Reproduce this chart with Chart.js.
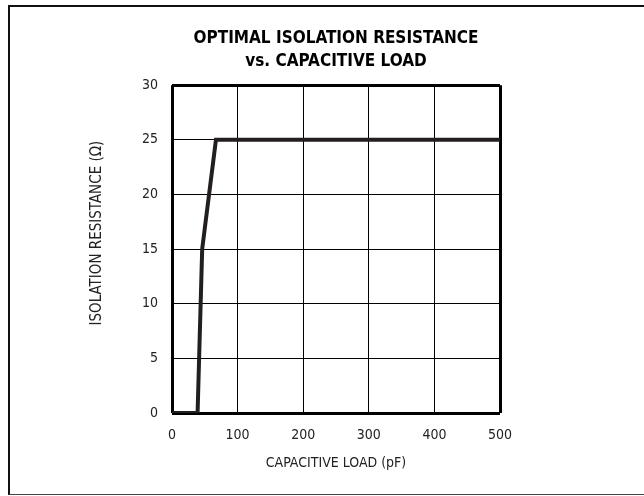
<!DOCTYPE html>
<html>
<head>
<meta charset="utf-8">
<script src="https://cdn.jsdelivr.net/npm/chart.js@4/dist/chart.umd.min.js"></script>
<style>
  html, body { margin: 0; padding: 0; background: #fff; }
  #wrap { position: relative; width: 644px; height: 496px; overflow: hidden; }
  #frame {
    position: absolute; left: 8px; top: 5px; width: 660px; height: 487px;
    border-left: 2px solid #111; border-top: 2px solid #111; border-bottom: 1px solid #444;
    box-sizing: content-box;
  }
  canvas { position: absolute; left: 0; top: 0; }
</style>
</head>
<body>
<div id="wrap">
  <div id="frame"></div>
  <canvas id="c" width="644" height="496"></canvas>
</div>
<script>
// Capacitive load (pF) and matching optimal isolation resistance (ohms)
const capacitanceLoad = [0, 39, 46, 67, 500];
const isolationResistance = [0, 0, 15, 25, 25];
const xTicks = [0, 100, 200, 300, 400, 500];
const yTicks = [0, 5, 10, 15, 20, 25, 30];

const FONT = "'DejaVu Sans Condensed', 'Liberation Sans Narrow', sans-serif";
const points = capacitanceLoad.map((x, i) => ({ x, y: isolationResistance[i] }));

// heavier lines on the outer edges of the plot frame
function edgeWidth(ctx) {
  const n = ctx.scale.ticks.length;
  return (ctx.index === 0 || ctx.index === n - 1) ? 3 : 1;
}

new Chart(document.getElementById('c'), {
  type: 'scatter',
  data: {
    datasets: [{
      data: points,
      showLine: true,
      borderColor: '#231f20',
      borderWidth: 4,
      pointRadius: 0,
      fill: false,
      tension: 0
    }]
  },
  options: {
    responsive: false,
    animation: false,
    layout: { padding: { left: 0, right: 144, top: 0, bottom: 0 } },
    plugins: {
      legend: { display: false },
      tooltip: { enabled: false },
      title: {
        display: true,
        fullSize: false,
        text: ['OPTIMAL ISOLATION RESISTANCE', 'vs. CAPACITIVE LOAD'],
        color: '#000',
        font: { family: FONT, size: 17, weight: 'bold', lineHeight: 1.3 },
        padding: { top: 28, bottom: 13 }
      }
    },
    scales: {
      x: {
        type: 'linear',
        min: 0, max: 500,
        afterBuildTicks: s => { s.ticks = xTicks.map(v => ({ value: v })); },
        afterFit: s => { s.height = 83; },
        border: { display: false },
        grid: { color: '#000', lineWidth: edgeWidth, drawTicks: false },
        ticks: { color: '#222', padding: 14, font: { family: FONT, size: 14 }, maxRotation: 0 },
        title: {
          display: true, text: 'CAPACITIVE LOAD (pF)', color: '#222',
          font: { family: FONT, size: 14 }, padding: { top: 10, bottom: 24 }
        }
      },
      y: {
        type: 'linear',
        min: 0, max: 30,
        afterBuildTicks: s => { s.ticks = yTicks.map(v => ({ value: v })); },
        afterFit: s => { s.width = 172; },
        border: { display: false },
        grid: { color: '#000', lineWidth: edgeWidth, drawTicks: false },
        ticks: { color: '#222', padding: 14, font: { family: FONT, size: 14 } },
        title: {
          display: true, text: 'ISOLATION RESISTANCE (Ω)', color: '#222',
          font: { family: FONT, size: 15 }, padding: { top: 88, bottom: 0 }
        }
      }
    }
  },
  plugins: [{
    // nudge the vertical axis title up so it sits a little above the plot middle
    id: 'yTitleShift',
    beforeDraw(chart) {
      const y = chart.scales.y;
      if (!y._titleShifted) {
        const draw = y.drawTitle.bind(y);
        y.drawTitle = function () {
          const ctx = this.ctx;
          ctx.save();
          ctx.translate(0, -16);
          draw();
          ctx.restore();
        };
        y._titleShifted = true;
      }
    }
  }]
});
</script>
</body>
</html>
